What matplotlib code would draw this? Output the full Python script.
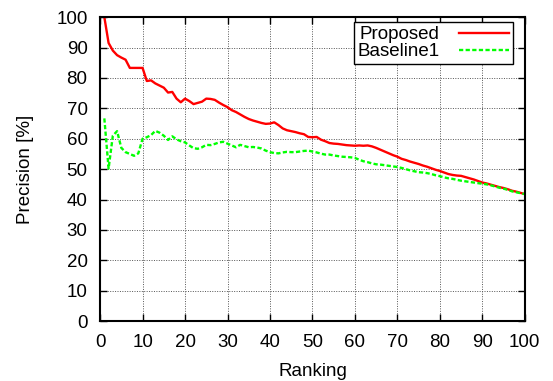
import numpy as np
import matplotlib
matplotlib.use("Agg")
import matplotlib.pyplot as plt

plt.rcParams['font.family'] = ['Liberation Sans', 'DejaVu Sans']

ranking = np.arange(1, 101)

proposed = [
    100, 91.5, 89, 87.5, 86.7, 86, 83.3, 83.3, 83.3, 83.3,
    79, 79.2, 78.2, 77.5, 76.8, 75.2, 75.4, 73.2, 72, 73.2,
    72.4, 71.4, 71.8, 72.2, 73.2, 73.1, 72.8, 71.9, 71.1, 70.4,
    69.4, 68.8, 68, 67.2, 66.5, 66, 65.6, 65.2, 64.9, 65,
    65.4, 64.5, 63.4, 62.8, 62.5, 62.2, 61.8, 61.5, 60.6, 60.5,
    60.6, 59.7, 59.2, 58.6, 58.4, 58.3, 58.1, 57.9, 57.8, 57.7,
    57.8, 57.7, 57.8, 57.5, 57.0, 56.4, 55.8, 55.2, 54.6, 54.1,
    53.4, 53.0, 52.5, 52.1, 51.7, 51.2, 50.8, 50.3, 49.8, 49.4,
    48.9, 48.4, 48.1, 47.9, 47.8, 47.4, 47.0, 46.6, 46.1, 45.6,
    45.3, 44.9, 44.5, 44.1, 43.8, 43.4, 42.9, 42.6, 42.2, 41.8,
]

baseline1 = [
    66.7, 50.2, 61, 62.5, 57, 55.6, 55, 54.4, 55.2, 60,
    60.5, 61.2, 62.6, 62, 61, 59.6, 60.8, 59.8, 59.2, 58.8,
    57.8, 56.9, 56.7, 57.2, 58, 57.9, 58.3, 58.8, 59, 58.4,
    57.8, 57.2, 58, 57.6, 57.2, 57.3, 57.1, 56.8, 56.1, 55.6,
    55.3, 55.2, 55.5, 55.7, 55.6, 55.6, 55.8, 56, 56.1, 55.8,
    55.5, 55.1, 54.8, 54.8, 54.5, 54.3, 54.1, 54, 53.9, 53.7,
    53.1, 52.6, 52.3, 51.9, 51.6, 51.5, 51.3, 51.1, 50.9, 50.7,
    50.4, 50.0, 49.6, 49.3, 49.0, 48.9, 48.7, 48.4, 48.0, 47.7,
    47.3, 47.0, 46.8, 46.5, 46.2, 46.0, 45.8, 45.6, 45.4, 45.2,
    45.0, 44.7, 44.3, 43.9, 43.6, 43.2, 42.7, 42.4, 42.1, 41.8,
]

x_ticks = np.arange(0, 101, 10)
y_ticks = np.arange(0, 101, 10)

fig = plt.figure(figsize=(5.53, 3.81), dpi=100)
ax = fig.add_axes([0.181, 0.157, 0.768, 0.798])

ax.plot(ranking, proposed, color='#ff0000', lw=1.7, label='Proposed')
ax.plot(ranking, baseline1, color='#00ff00', lw=1.7, ls=(0, (1.8, 1)), label='Baseline1')

ax.set_xlim(0, 100)
ax.set_ylim(0, 100)
ax.set_xticks(x_ticks)
ax.set_yticks(y_ticks)
ax.grid(True, color='#555555', ls=(0, (1, 1.5)), lw=0.7)
ax.tick_params(direction='in', length=5, width=1, top=True, right=True,
               labelsize=13.5, pad=9, colors='black')
for sp in ax.spines.values():
    sp.set_linewidth(1.5)

ax.set_xlabel('Ranking', fontsize=13.5, labelpad=9)
ax.set_ylabel('Precision [%]', fontsize=13.5, labelpad=16)

leg = ax.legend(loc='upper right', bbox_to_anchor=(0.972, 0.983), markerfirst=False,
                fontsize=13.5, fancybox=False, edgecolor='black', framealpha=1,
                borderpad=0.2, labelspacing=0.0, handlelength=2.7,
                handletextpad=1.0, borderaxespad=0)
leg.get_frame().set_linewidth(1)

fig.savefig('out.png', dpi=100)
